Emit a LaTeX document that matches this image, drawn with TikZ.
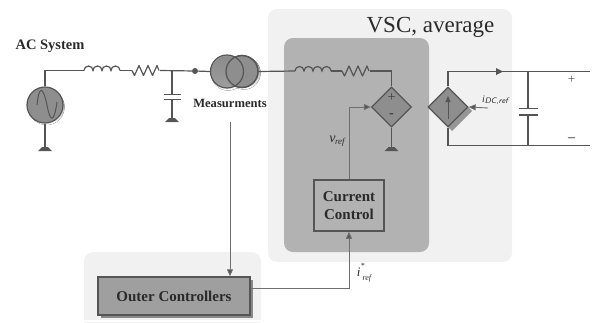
\documentclass[tikz,border=0pt]{standalone}
\usepackage{fontspec}
\setmainfont{Liberation Serif}
\usetikzlibrary{arrows.meta,shapes.geometric,calc}
\definecolor{wire}{HTML}{555555}
\definecolor{elem}{HTML}{8E8E8E}
\definecolor{shade}{HTML}{B0B0B0}
\definecolor{panel}{HTML}{F1F1F1}
\definecolor{inner}{HTML}{B2B2B2}
\definecolor{txt}{HTML}{2A2A2A}
\definecolor{sign}{HTML}{3C3C3C}
\tikzset{
  wireline/.style={draw=wire,line width=1.2pt},
  sigline/.style={draw=wire!85,line width=0.9pt},
  arrowed/.style={-{Triangle[length=7pt,width=6pt,fill=wire]}},
  panelbox/.style={fill=panel,rounded corners=9pt},
  innerbox/.style={fill=inner,rounded corners=9pt},
  ctrlbox/.style={draw=wire,line width=1.5pt,fill=#1,font=\bfseries,text=txt,align=center,inner sep=0pt},
  sourcec/.style={circle,draw=wire,line width=1.2pt,fill=elem,minimum size=#1,inner sep=0pt},
  dep/.style={diamond,draw=wire,line width=1.3pt,fill=elem,minimum size=40pt,inner sep=0pt,aspect=1},
  lab/.style={text=txt,inner sep=0pt},
}
\newcommand{\gndmark}[1]{%
  \fill[wire] ($(#1)+(-7pt,0pt)$) -- ($(#1)+(7pt,0pt)$) -- ($(#1)+(3pt,4pt)$) -- ($(#1)+(-3pt,4pt)$) -- cycle;}
\newcommand{\lcoil}[1]{%
  \draw[wireline] (#1) ++(-18pt,0pt) arc[start angle=180,end angle=0,radius=4.5pt]
    arc[start angle=180,end angle=0,radius=4.5pt]
    arc[start angle=180,end angle=0,radius=4.5pt]
    arc[start angle=180,end angle=0,radius=4.5pt];}
\newcommand{\rzig}[1]{%
  \draw[wireline,line join=round] (#1) ++(-14pt,0pt) -- ++(2.5pt,-5pt) -- ++(4.5pt,10pt) -- ++(4.5pt,-10pt)
    -- ++(4.5pt,10pt) -- ++(4.5pt,-10pt) -- ++(4.5pt,10pt) -- ++(2pt,-5pt);}
\newcommand{\plates}[3]{%
  \draw[wireline] ($(#1)+(-#3,0pt)$) -- ($(#1)+(#3,0pt)$);
  \draw[wireline] ($(#2)+(-#3,0pt)$) -- ($(#2)+(#3,0pt)$);}
\begin{document}
\begin{tikzpicture}[x=1pt,y=-1pt]
\useasboundingbox (0,0) rectangle (600,322);
% panels
\path[panelbox] (268,9) rectangle (512,262);
\path[panelbox] (84,252) rectangle (261,340);
\fill[white] (0,320) rectangle (268,322);
\path[innerbox] (284,38) rectangle (429,252);
% coordinates
\coordinate (l1) at (102,70.5);
\coordinate (r1) at (146,70.5);
\coordinate (l2) at (313,71);
\coordinate (r2) at (356,71);
\coordinate (ncap) at (172,70.5);
\coordinate (cp1) at (172,94.5);
\coordinate (cp2) at (172,99.5);
\coordinate (g1) at (172,122);
\coordinate (g0) at (45,151);
\coordinate (g2) at (391.5,151);
\coordinate (dcin) at (488,108);
\coordinate (dctop) at (448,71.5);
\coordinate (dcbot) at (448,145.5);
\coordinate (dctopr) at (590,71.5);
\coordinate (dcbotr) at (590,145.5);
\coordinate (captop) at (528,71.5);
\coordinate (capbot) at (528,145.5);
\coordinate (cq1) at (528,108.5);
\coordinate (cq2) at (528,115);
\coordinate (mstart) at (230,122);
\coordinate (wtop) at (391.5,71);
% shadows
\fill[shade] (46.5,107) circle (18pt);
\fill[shade] (244,73) circle (16.5pt);
\fill[shade] (228,73.5) circle (17pt);
\fill[shade!85!black] (452,91) -- (472,111) -- (452,131) -- (432,111) -- cycle;
% nodes
\node[sourcec=36pt] (src) at (45,105) {};
\node[sourcec=32pt] (t2) at (242,71.5) {};
\node[sourcec=33pt,fill opacity=0.85] (t1) at (227,71.5) {};
\draw[wire,line width=1.2pt] (242,71.5) circle (16pt);
\node[circle,fill=wire,minimum size=6pt,inner sep=0pt] (dot) at (195,71) {};
\node[dep] (d1) at (391.5,107) {};
\node[dep] (d2) at (448,107) {};
\node[ctrlbox=inner,minimum width=70pt,minimum height=51pt,font=\bfseries\fontsize{15}{18}\selectfont] (cc) at (349,205.5) {Current\\Control};
\fill[wire!70] (100.5,279.5) rectangle (252.5,317.5);
\node[ctrlbox=elem!85!white,minimum width=152pt,minimum height=38pt,font=\bfseries\fontsize{15}{18}\selectfont] (oc) at (174,296) {Outer Controllers};
% sine
\draw[wire,line width=1pt] (37,105) .. controls (39,85) and (43,86) .. (47,105) .. controls (50,122) and (54,124) .. (57,102);
% wires AC side
\draw[wireline] (src.north) |- ($(l1)+(-18pt,0pt)$);
\lcoil{l1}
\draw[wireline] ($(l1)+(18pt,0pt)$) -- ($(r1)+(-14pt,0pt)$);
\rzig{r1}
\draw[wireline] ($(r1)+(14pt,0pt)$) -- (dot) -- (t1.west);
\draw[wireline] (src.south) -- (g0);
\gndmark{g0}
\draw[wireline] (ncap) -- (cp1);
\draw[wireline] (cp2) -- (g1);
\plates{cp1}{cp2}{8.5pt}
\gndmark{g1}
% VSC side
\draw[wireline] (t2.east) -- ($(l2)+(-18pt,0pt)$);
\lcoil{l2}
\draw[wireline] ($(l2)+(18pt,0pt)$) -- ($(r2)+(-14pt,0pt)$);
\rzig{r2}
\draw[wireline] ($(r2)+(14pt,0pt)$) -- (wtop) -- (d1.north);
\draw[wireline] (d1.south) -- (g2);
\gndmark{g2}
% DC side
\draw[wireline] (d2.north) -- (dctop) -- (dctopr);
\fill[wire] (496,68) -- (503,71.5) -- (496,75) -- cycle;
\draw[wireline] (d2.south) -- (dcbot) -- (dcbotr);
\draw[wireline] (captop) -- (cq1);
\draw[wireline] (cq2) -- (capbot);
\plates{cq1}{cq2}{9.5pt}
\draw[sigline,arrowed] (dcin) -- (d2.east);
\draw[wire,line width=1pt,-{Triangle[length=6pt,width=5pt,fill=wire]}] (448,119) -- (448,96);
% signals
\draw[sigline,arrowed] (cc.north -| 349,180) |- (d1.west);
\draw[sigline,arrowed] (oc.east |- 0,288) -| (cc.south);
\draw[sigline,arrowed] (mstart) -- (oc.north -| mstart);
% labels
\node[lab,font=\bfseries\fontsize{14.5}{17}\selectfont] (tac) at (50,46) {AC System};
\node[lab,font=\bfseries\fontsize{12.6}{15}\selectfont] (tms) at (230,103) {Measurments};
\node[lab,font=\fontsize{23}{26}\selectfont] (tvsc) at (430.5,27) {VSC, average};
\node[lab,font=\fontsize{14}{16}\selectfont\itshape] (tv) at (337,141) {v\kern-0.5pt\raisebox{-2pt}{\fontsize{9}{10}\selectfont ref}};
\node[lab,font=\fontsize{13}{16}\selectfont\itshape] (ti) at (364,273) {i\raisebox{8pt}{\fontsize{8}{9}\selectfont *}\kern-2pt\raisebox{-4pt}{\fontsize{8}{9}\selectfont ref}};
\node[lab,font=\fontsize{10}{12}\selectfont\itshape] (tdc) at (495,100) {i\raisebox{-1.5pt}{\fontsize{8}{9}\selectfont\sffamily DC,ref}};
\node[lab,text=sign,font=\fontsize{14}{14}\selectfont] (tp1) at (391.5,98) {+};
\node[lab,text=sign,font=\bfseries\fontsize{14}{14}\selectfont] (tm1) at (391.5,116) {-};
\node[lab,text=wire,font=\fontsize{13}{13}\selectfont] (tp2) at (571.5,79.5) {+};
\node[lab,text=wire,font=\bfseries\fontsize{14}{14}\selectfont] (tm2) at (571.5,140) {--};
\end{tikzpicture}
\end{document}
